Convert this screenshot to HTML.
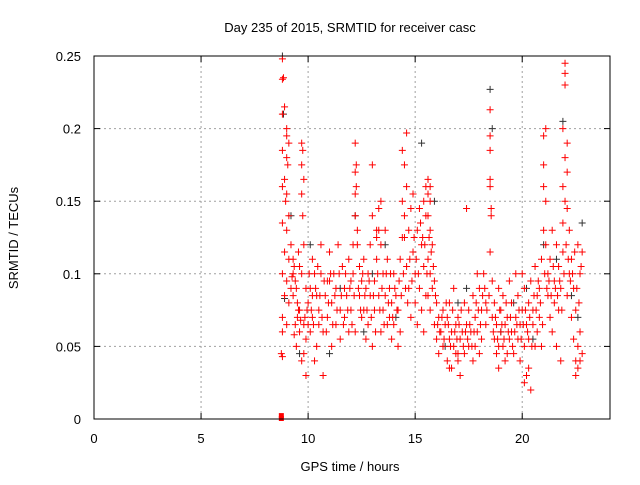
<!DOCTYPE html>
<html><head><meta charset="utf-8"><style>
body{margin:0;background:#fff;width:640px;height:480px;overflow:hidden}
svg{font-family:"Liberation Sans",sans-serif}
</style></head><body>
<svg id="chart" width="640" height="480" xmlns="http://www.w3.org/2000/svg">
<text x="350" y="32" font-size="13" text-anchor="middle">Day 235 of 2015, SRMTID for receiver casc</text>
<text transform="translate(18,238) rotate(-90)" font-size="13" text-anchor="middle">SRMTID / TECUs</text>
<text x="350" y="471" font-size="13" text-anchor="middle">GPS time / hours</text>
<g id="grid"></g>
<g id="ticks"></g>
<g id="marks"></g>
<rect x="94" y="56" width="516" height="363" fill="none" stroke="#000" stroke-width="1"/>
</svg>
<script>
const xTicks=[0,5,10,15,20];
const yTicks=[0,0.05,0.1,0.15,0.2,0.25];
const yTickLabels=["0","0.05","0.1","0.15","0.2","0.25"];
const zeroPoints=[[8.75,0],[8.75,0.002]];
const darkPoints=[[8.8,0.25],[8.85,0.21],[8.9,0.083],[9.2,0.14],[9.6,0.045],[10.1,0.12],[11.0,0.045],[11.5,0.09],[12.2,0.14],[12.6,0.06],[13.0,0.1],[13.6,0.12],[14.1,0.07],[15.3,0.19],[15.9,0.15],[16.4,0.05],[17.0,0.08],[17.4,0.09],[18.5,0.227],[18.6,0.2],[19.0,0.06],[19.6,0.08],[20.2,0.09],[20.5,0.055],[21.0,0.12],[21.6,0.11],[21.9,0.205],[22.3,0.085],[22.6,0.07],[22.8,0.135]];
const redPoints=[
[8.8,0.248],[8.85,0.235],[8.8,0.234],[8.9,0.215],[8.8,0.21],[9.0,0.2],[9.0,0.195],[9.1,0.19],[8.8,0.185],[9.0,0.18],[9.05,0.175],[8.9,0.165],[8.8,0.16],[9.0,0.155],[8.95,0.15],[9.1,0.14],[8.8,0.135],[9.0,0.13],[9.2,0.12],[8.9,0.115],[9.1,0.11],[8.8,0.1],[9.0,0.095],[9.2,0.09],[8.9,0.085],[9.1,0.08],[8.8,0.07],[9.0,0.065],[8.8,0.06],[8.75,0.045],[8.8,0.043],
[9.3,0.1],[9.4,0.095],[9.3,0.085],[9.5,0.07],[9.4,0.065],[9.6,0.06],[9.5,0.08],[9.3,0.11],[9.6,0.105],[9.7,0.19],[9.75,0.185],[9.7,0.175],[9.8,0.165],[9.7,0.155],[9.75,0.14],[9.8,0.12],[9.7,0.1],[9.6,0.075],[9.8,0.045],[9.7,0.04],[9.9,0.03],[9.9,0.055],[9.8,0.065],
[10.0,0.08],[10.1,0.06],[10.2,0.07],[10.1,0.09],[10.3,0.1],[10.2,0.11],[10.4,0.085],[10.4,0.05],[10.5,0.065],[10.3,0.04],[10.5,0.075],[10.6,0.1],[10.6,0.12],[10.7,0.06],[10.8,0.085],[10.7,0.03],[10.9,0.07],[10.9,0.095],[11.0,0.115],[11.1,0.08],[11.1,0.05],[11.2,0.1],[11.3,0.065],[11.3,0.09],[11.4,0.12],[11.5,0.075],[11.5,0.055],[11.6,0.105],[11.7,0.09],[11.7,0.07],[11.8,0.085],[11.9,0.11],[11.9,0.06],[12.0,0.095],[12.0,0.075],[12.1,0.1],[12.2,0.06],[12.1,0.12],
[12.2,0.19],[12.25,0.175],[12.2,0.17],[12.25,0.16],[12.2,0.155],[12.2,0.14],[12.3,0.13],[12.3,0.12],[12.4,0.105],[12.4,0.085],[12.5,0.07],[12.5,0.095],[12.6,0.11],[12.6,0.075],[12.7,0.055],[12.7,0.09],[12.8,0.1],[12.8,0.065],[12.9,0.12],[12.9,0.085],[13.0,0.175],[13.0,0.14],[13.1,0.075],[13.0,0.05],[13.1,0.095],[13.2,0.13],[13.2,0.11],[13.3,0.145],[13.3,0.085],[13.4,0.15],[13.4,0.12],[13.4,0.06],[13.5,0.1],[13.5,0.075],[13.6,0.13],[13.6,0.085],[13.7,0.065],[13.7,0.11],[13.8,0.09],[13.8,0.07],[13.9,0.055],[13.9,0.08],[14.0,0.1],[14.0,0.065],[14.1,0.085],[14.2,0.05],[14.2,0.075],[14.3,0.11],[14.3,0.06],
[14.4,0.185],[14.5,0.175],[14.4,0.15],[14.5,0.14],[14.6,0.197],[14.6,0.16],[14.5,0.125],[14.6,0.105],[14.7,0.13],[14.7,0.09],[14.8,0.145],[14.8,0.07],[14.9,0.115],[14.9,0.155],[15.0,0.1],[15.0,0.08],[15.1,0.13],[15.1,0.065],[15.2,0.145],[15.2,0.09],[15.3,0.12],[15.3,0.075],[15.4,0.105],[15.4,0.06],[15.5,0.14],[15.5,0.085],
[15.6,0.165],[15.7,0.16],[15.6,0.155],[15.7,0.15],[15.6,0.14],[15.7,0.13],[15.8,0.12],[15.6,0.11],[15.7,0.1],[15.8,0.09],[15.6,0.085],[15.7,0.075],[15.9,0.095],[15.9,0.065],[16.0,0.08],[16.0,0.055],[16.1,0.07],[16.1,0.045],
[16.2,0.06],[16.3,0.075],[16.3,0.05],[16.4,0.065],[16.5,0.04],[16.5,0.07],[16.6,0.055],[16.6,0.08],[16.7,0.06],[16.7,0.035],[16.8,0.05],[16.8,0.09],[16.9,0.065],[17.0,0.045],[17.0,0.07],[17.1,0.055],[17.1,0.03],[17.2,0.06],[17.3,0.08],[17.3,0.045],[17.4,0.065],[17.4,0.145],[17.5,0.05],[17.5,0.075],[17.6,0.06],[17.7,0.04],[17.7,0.085],[17.8,0.07],[17.8,0.05],[17.9,0.1],[17.9,0.06],[18.0,0.09],[18.0,0.045],[18.1,0.075],[18.1,0.055],[18.2,0.1],[18.3,0.065],[18.3,0.08],
[18.5,0.213],[18.5,0.195],[18.5,0.185],[18.5,0.165],[18.5,0.16],[18.55,0.145],[18.55,0.14],[18.5,0.115],[18.6,0.095],[18.6,0.07],[18.7,0.055],[18.7,0.08],[18.8,0.045],[18.8,0.065],[18.9,0.09],[18.9,0.035],[19.0,0.06],[19.0,0.075],[19.1,0.05],[19.1,0.085],[19.2,0.065],[19.2,0.04],[19.3,0.07],[19.4,0.055],[19.4,0.095],[19.5,0.08],[19.5,0.06],[19.6,0.045],[19.7,0.07],[19.7,0.1],[19.8,0.055],[19.8,0.085],[19.9,0.065],[19.9,0.04],[20.0,0.075],[20.0,0.1],[20.1,0.05],[20.1,0.09],[20.2,0.065],[20.2,0.03],[20.3,0.08],[20.3,0.055],[20.4,0.02],[20.4,0.095],[20.5,0.065],[20.5,0.075],[20.6,0.05],[20.6,0.105],[20.7,0.085],[20.7,0.06],[20.8,0.09],[20.8,0.07],[20.9,0.05],[20.9,0.11],
[21.0,0.195],[21.0,0.175],[21.1,0.2],[21.0,0.16],[21.1,0.15],[21.0,0.13],[21.1,0.12],[21.2,0.1],[21.2,0.085],[21.3,0.07],[21.3,0.11],[21.4,0.13],[21.4,0.06],[21.5,0.095],[21.5,0.08],[21.6,0.12],[21.6,0.05],[21.7,0.075],[21.7,0.105],[21.8,0.04],[21.8,0.09],[21.9,0.135],[21.9,0.115],[22.0,0.245],[22.0,0.238],[22.0,0.23],[21.9,0.2],[22.1,0.19],[22.0,0.18],[22.1,0.17],[21.9,0.16],[22.0,0.15],[22.1,0.145],[22.2,0.13],[22.2,0.1],[22.1,0.085],[22.3,0.07],[22.3,0.11],[22.4,0.055],[22.4,0.09],[22.5,0.04],[22.5,0.075],[22.6,0.035],[22.6,0.12],[22.7,0.1],[22.7,0.06],[22.8,0.115],[22.8,0.045],[22.5,0.03]
];
const redPoints2=[
[9.35,0.105],[9.45,0.09],[9.55,0.075],[9.65,0.068],[9.35,0.058],[9.45,0.05],[9.25,0.098],[9.55,0.115],[9.9,0.09],[9.95,0.075],[9.85,0.07],[10.05,0.1],[10.15,0.075],[10.25,0.065],[10.35,0.09],[10.45,0.105],[10.55,0.085],[10.65,0.07],[10.75,0.095],[10.85,0.06],[10.95,0.08],[11.05,0.1],[11.15,0.065],[11.25,0.085],[11.35,0.075],[11.45,0.1],[11.55,0.085],[11.65,0.065],[11.75,0.1],[11.85,0.075],[11.95,0.09],[12.05,0.065],[12.15,0.085],[12.35,0.09],[12.45,0.075],[12.55,0.1],[12.65,0.085],[12.75,0.075],[12.85,0.095],[12.95,0.07],[13.05,0.085],[13.15,0.06],[13.25,0.1],[13.35,0.075],[13.45,0.09],[13.55,0.065],[13.65,0.1],[13.75,0.08],[13.85,0.1],[13.95,0.07],[14.05,0.09],[14.15,0.075],[14.25,0.095],[14.35,0.085],[14.45,0.1],[14.55,0.09],[14.65,0.08],[14.75,0.11],[14.85,0.095],[14.95,0.125],[15.05,0.11],[15.15,0.1],[15.25,0.135],[15.35,0.125],[15.45,0.12],[15.55,0.1],[15.65,0.125],[15.75,0.115],[15.85,0.105],[15.95,0.085],[16.05,0.065],[16.15,0.06],[16.25,0.07],[16.35,0.055],[16.45,0.08],[16.55,0.065],[16.65,0.05],[16.75,0.075],[16.85,0.06],[16.95,0.055],[17.05,0.065],[17.15,0.075],[17.25,0.05],[17.35,0.06],[17.45,0.055],[17.55,0.065],[17.65,0.05],[17.75,0.06],[17.85,0.08],[17.95,0.075],[18.05,0.065],[18.15,0.085],[18.25,0.09],[18.35,0.075],[18.45,0.085],[18.65,0.06],[18.75,0.07],[18.85,0.055],[18.95,0.075],[19.05,0.065],[19.15,0.055],[19.25,0.08],[19.35,0.06],[19.45,0.07],[19.55,0.05],[19.65,0.06],[19.75,0.065],[19.85,0.075],[19.95,0.055],[20.05,0.065],[20.15,0.075],[20.25,0.06],[20.35,0.07],[20.45,0.05],[20.55,0.085],[20.65,0.075],[20.75,0.095],[20.85,0.08],[20.95,0.065],[21.05,0.1],[21.15,0.09],[21.25,0.095],[21.35,0.085],[21.45,0.105],[21.55,0.09],[21.65,0.085],[21.75,0.095],[21.85,0.075],[21.95,0.1],[22.05,0.12],[22.15,0.11],[22.25,0.095],[22.35,0.1],[22.45,0.115],[22.55,0.09],[22.65,0.08],[22.75,0.105],[22.7,0.04],[22.6,0.05],[20.3,0.035],[20.1,0.025],[19.3,0.045],[18.9,0.05],[17.0,0.04],[16.6,0.035],[16.9,0.045],[15.4,0.15],[15.5,0.16],[14.4,0.125],[13.3,0.13],[13.2,0.125],[11.0,0.095],[10.2,0.085],[10.0,0.065]
];
const X0=94,X1=610,Y0=419,Y1=56,XMAX=24.1,YMAX=0.25;
const sx=v=>X0+v/XMAX*(X1-X0);
const sy=v=>Y0-v/YMAX*(Y0-Y1);
const NS="http://www.w3.org/2000/svg";
const grid=document.getElementById('grid'),ticks=document.getElementById('ticks'),marks=document.getElementById('marks');
function mk(tag,attrs,parent){const e=document.createElementNS(NS,tag);for(const k in attrs)e.setAttribute(k,attrs[k]);parent.appendChild(e);return e;}
xTicks.forEach(t=>{const x=sx(t);
 if(t>0){const g=mk('line',{x1:x,x2:x,y1:Y1,y2:Y0,stroke:'#a0a0a0','stroke-dasharray':'2,3'},grid);}
 mk('line',{x1:x,x2:x,y1:Y0,y2:Y0-6,stroke:'#000'},ticks);mk('line',{x1:x,x2:x,y1:Y1,y2:Y1+6,stroke:'#000'},ticks);
 const l=mk('text',{x:x,y:443,'font-size':13,'text-anchor':'middle'},ticks);l.textContent=t;
 });
yTicks.forEach((t,i)=>{const y=sy(t);
 if(t>0&&t<YMAX){const g=mk('line',{x1:X0,x2:X1,y1:y,y2:y,stroke:'#a0a0a0','stroke-dasharray':'2,3'},grid);}
 mk('line',{x1:X0,x2:X0+6,y1:y,y2:y,stroke:'#000'},ticks);mk('line',{x1:X1,x2:X1-6,y1:y,y2:y,stroke:'#000'},ticks);
 const l=mk('text',{x:81,y:y+5,'font-size':13,'text-anchor':'end'},ticks);l.textContent=yTickLabels[i];
 });
function plus(p,color,name){const x=sx(p[0]),y=sy(p[1]);
 const e=mk('path',{d:`M${x-3.5},${y}h7M${x},${y-3.5}v7`,stroke:color,'stroke-width':1,fill:'none'},marks);
 
 }
darkPoints.forEach(p=>plus(p,'#333','dark-point'));
redPoints.forEach(p=>plus(p,'#ff0000','red-point'));
redPoints2.forEach(p=>plus(p,'#ff0000','red-point'));
zeroPoints.forEach(p=>{const r=mk('rect',{x:sx(p[0])-2.5,y:sy(p[1])-3,width:5,height:5,fill:'#ff0000'},marks);
 
 });
</script>
</body></html>
